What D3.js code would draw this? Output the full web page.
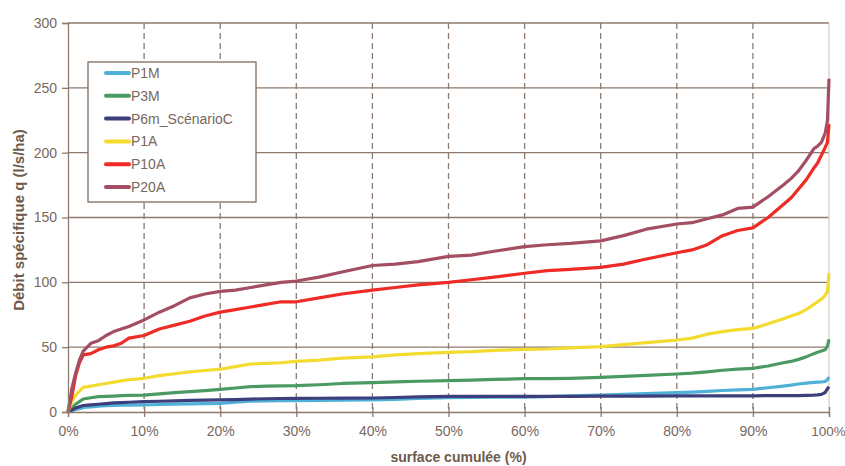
<!DOCTYPE html>
<html>
<head>
<meta charset="utf-8">
<script src="https://cdn.jsdelivr.net/npm/d3@7"></script>
<style>
  body { margin: 0; background: #fff; }
  svg { font-family: "Liberation Sans", Arial, sans-serif; }
</style>
</head>
<body>
<svg id="chart" width="845" height="466"></svg>
<script>
// surface cumulée (%) - common abscissa for all series
const surface = [0, 0.5, 1, 1.5, 2, 3, 4, 5, 6, 7, 8, 10, 12, 14, 16, 18, 20, 22, 24, 26, 28, 30,
  33, 36, 40, 43, 46, 50, 53, 56, 60, 63, 66, 70, 73, 76, 80, 82, 84, 86, 88, 90, 92, 94, 95, 96,
  97, 98, 98.5, 99, 99.5, 99.8, 100];

// débit spécifique q (l/s/ha) per scenario
const p1m = [0, 1, 2, 2.5, 3.5, 4, 4.5, 4.8, 5, 5.2, 5.3, 5.4, 5.8, 6, 6.3, 6.5, 6.7, 7.5, 8.3, 8.5, 8.7, 8.8,
  9, 9.2, 9.3, 9.8, 10.4, 11, 11.2, 11.4, 11.5, 11.9, 12.5, 13.1, 13.6, 14.2, 14.9, 15.3, 15.9, 16.6, 17, 17.5, 18.7, 20, 20.7, 21.6,
  22.3, 22.8, 23, 23.2, 23.5, 25, 27];
const p3m = [0, 3, 6, 8, 10, 11, 11.8, 12, 12.3, 12.6, 12.8, 13, 14, 15, 15.7, 16.5, 17.5, 18.5, 19.5, 20, 20.2, 20.3,
  21, 22, 22.6, 23.2, 23.7, 24.2, 24.6, 25.1, 25.7, 25.8, 26, 26.7, 27.5, 28.2, 29.3, 30, 31, 32.2, 33, 33.7, 35.5, 38, 39, 40.6,
  42.5, 45, 46, 47, 48, 51, 56];
const p6m = [0, 1.5, 3, 4, 5, 5.5, 6, 6.5, 7, 7.2, 7.5, 8, 8.3, 8.6, 8.9, 9.1, 9.3, 9.6, 10, 10.2, 10.4, 10.5,
  10.6, 10.7, 10.8, 11.2, 11.6, 12, 12, 12, 12, 12, 12.1, 12.2, 12.3, 12.3, 12.4, 12.4, 12.4, 12.5, 12.5, 12.5, 12.6, 12.6, 12.6, 12.7,
  12.8, 13, 13.2, 13.6, 15, 18, 19.5];
const p1a = [0, 8, 13, 16, 19, 20, 21, 22, 23, 24, 25, 26, 28, 29.5, 31, 32, 33, 35, 37, 37.5, 38, 39,
  40, 41.5, 42.5, 44, 45, 46, 46.5, 47.5, 48.3, 48.6, 49.5, 50.4, 52, 53.5, 55.5, 57, 60, 62, 63.5, 64.5, 68, 72, 74, 76,
  79, 83, 85, 87, 90, 93, 107];
const p10a = [0, 12, 28, 38, 44, 45, 48, 50, 51, 53, 57, 59, 64, 67, 70, 74, 77, 79, 81, 83, 85, 85,
  88, 91, 94, 96, 98, 100, 102, 104, 107, 109, 110, 111.5, 114, 118, 122.8, 125, 129, 136, 140, 142, 150, 160, 165, 172,
  179, 188, 192, 198, 204, 208, 222];
const p20a = [0, 18, 30, 40, 47, 53, 55, 59, 62, 64, 66, 71, 77, 82, 88, 91, 93, 94, 96, 98, 100, 101,
  104, 108, 113, 114, 116, 120, 121, 124, 127.5, 129, 130, 132, 136, 141, 145, 146, 149, 152, 157, 158, 166, 175, 180, 186,
  194, 203, 205, 208, 215, 225, 257];

const seriesNames = ["P1M", "P3M", "P6m_ScénarioC", "P1A", "P10A", "P20A"];
const seriesValues = [p1m, p3m, p6m, p1a, p10a, p20a];
const seriesColors = ["#4fb0d8", "#4c9a63", "#3d3f7c", "#f3dc2f", "#ee2b25", "#a44e63"];

const xTicks = [0, 10, 20, 30, 40, 50, 60, 70, 80, 90, 100];
const yTicks = [0, 50, 100, 150, 200, 250, 300];

// chart dimensions
const svg = d3.select("#chart");
const margin = { top: 23, right: 16, bottom: 54, left: 68 };
const width = +svg.attr("width") - margin.left - margin.right;
const height = +svg.attr("height") - margin.top - margin.bottom;

const x = d3.scaleLinear().domain([0, 100]).range([0, width]);
const y = d3.scaleLinear().domain([0, 300]).range([height, 0]);

const gridColor = "#8d7a6c";
const textColor = "#786860";

const g = svg.append("g")
  .attr("transform", "translate(" + margin.left + "," + margin.top + ")");

// horizontal grid lines
g.append("g")
  .selectAll("line")
  .data(yTicks.slice(1))
  .enter()
  .append("line")
  .attr("x1", 0)
  .attr("x2", width)
  .attr("y1", d => y(d))
  .attr("y2", d => y(d))
  .attr("stroke", gridColor)
  .attr("stroke-width", 1.3);

// vertical dashed grid lines
g.append("g")
  .selectAll("line")
  .data(xTicks.slice(1, -1))
  .enter()
  .append("line")
  .attr("x1", d => x(d))
  .attr("x2", d => x(d))
  .attr("y1", 0)
  .attr("y2", height)
  .attr("stroke", gridColor)
  .attr("stroke-width", 1.3)
  .attr("stroke-dasharray", "6,4");

// right border of the plot area
g.append("line")
  .attr("x1", width)
  .attr("x2", width)
  .attr("y1", 0)
  .attr("y2", height)
  .attr("stroke", "#d8cfc6")
  .attr("stroke-width", 1.3);

// curves
const line = d3.line()
  .x((d, i) => x(surface[i]))
  .y(d => y(d));

g.append("g")
  .selectAll("path")
  .data(seriesValues)
  .enter()
  .append("path")
  .attr("d", line)
  .attr("fill", "none")
  .attr("stroke", (d, i) => seriesColors[i])
  .attr("stroke-width", 3.2)
  .attr("stroke-linejoin", "round");

// y axis
const yAxis = g.append("g")
  .call(d3.axisLeft(y).tickValues(yTicks).tickSize(6).tickPadding(5).tickFormat(d3.format("d")));
yAxis.select(".domain").attr("stroke", gridColor).attr("stroke-width", 1.3);
yAxis.selectAll(".tick line").attr("stroke", gridColor).attr("stroke-width", 1.3);
yAxis.selectAll(".tick text")
  .attr("fill", textColor)
  .style("font-size", "14px");

// x axis, ticks crossing the axis line
const xAxis = g.append("g")
  .attr("transform", "translate(0," + height + ")")
  .call(d3.axisBottom(x).tickValues(xTicks).tickSize(5).tickPadding(9).tickFormat(d => d + "%"));
xAxis.select(".domain").attr("stroke", gridColor).attr("stroke-width", 1.3);
xAxis.selectAll(".tick line")
  .attr("y1", -5)
  .attr("stroke", gridColor)
  .attr("stroke-width", 1.3);
xAxis.selectAll(".tick text")
  .attr("fill", textColor)
  .style("font-size", "14px");
// keep the last label inside the page
xAxis.selectAll(".tick text")
  .filter(d => d == 100)
  .attr("dx", -1)
  .style("font-size", "13.5px");

// axis titles
svg.append("text")
  .attr("x", margin.left + width / 2 + 10)
  .attr("y", 462)
  .attr("text-anchor", "middle")
  .attr("fill", "#6e5a4c")
  .style("font-size", "14px")
  .style("font-weight", "bold")
  .text("surface cumulée (%)");

svg.append("text")
  .attr("transform", "translate(24,220) rotate(-90)")
  .attr("text-anchor", "middle")
  .attr("fill", "#6e5a4c")
  .style("font-size", "15px")
  .style("font-weight", "bold")
  .text("Débit spécifique q (l/s/ha)");

// legend
const legendBox = svg.append("g").attr("transform", "translate(88,62)");
legendBox.append("rect")
  .attr("width", 168)
  .attr("height", 140)
  .attr("fill", "#fff")
  .attr("stroke", "#7d6a5c")
  .attr("stroke-width", 1.3);

const key = legendBox.selectAll(".key")
  .data(seriesNames)
  .enter()
  .append("g")
  .attr("class", "key")
  .attr("transform", (d, i) => "translate(0," + (11 + i * 22.8) + ")");
key.append("line")
  .attr("x1", 18)
  .attr("x2", 41)
  .attr("stroke", (d, i) => seriesColors[i])
  .attr("stroke-width", 4)
  .attr("stroke-linecap", "round");
key.append("text")
  .attr("x", 43)
  .attr("y", 5)
  .attr("fill", textColor)
  .style("font-size", "14px")
  .text(d => d);
</script>
</body>
</html>
